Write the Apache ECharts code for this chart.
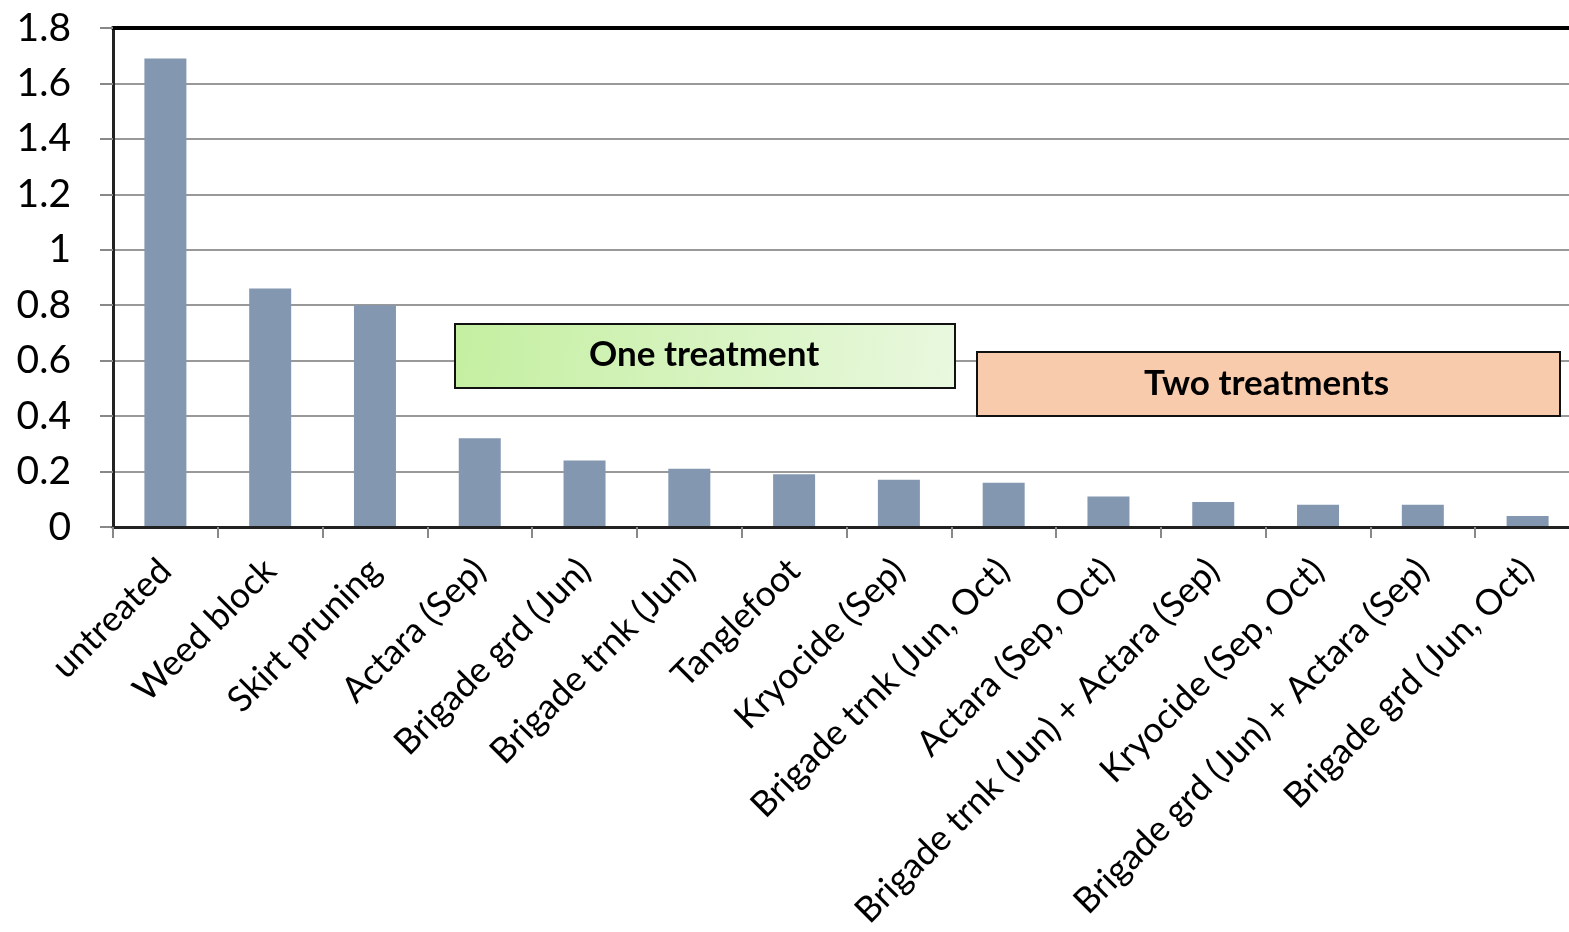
<!DOCTYPE html>
<html><head><meta charset="utf-8">
<script src="https://cdn.jsdelivr.net/npm/echarts@6/dist/echarts.min.js"></script>
<style>html,body{margin:0;padding:0;background:#fff;overflow:hidden}#c{width:1569px;height:932px}</style>
</head><body><div id="c"></div>
<script>
const categories = ["untreated","Weed block","Skirt pruning","Actara (Sep)","Brigade grd (Jun)","Brigade trnk (Jun)","Tanglefoot","Kryocide (Sep)","Brigade trnk (Jun, Oct)","Actara (Sep, Oct)","Brigade trnk (Jun) + Actara (Sep)","Kryocide (Sep, Oct)","Brigade grd (Jun) + Actara (Sep)","Brigade grd (Jun, Oct)"];
const values = [1.69,0.86,0.80,0.32,0.24,0.21,0.19,0.17,0.16,0.11,0.09,0.08,0.08,0.04];
const yTicks = [0,0.2,0.4,0.6,0.8,1,1.2,1.4,1.6,1.8];
const boxLabels = ["One treatment","Two treatments"];

const chart = echarts.init(document.getElementById('c'));
const font = 'Lato, "Open Sans", sans-serif';
chart.setOption({
  animation:false,
  grid:{left:113,top:28,width:1467,height:499,containLabel:false,outerBoundsMode:'none'},
  xAxis:[{
    type:'category',data:categories,
    axisLine:{lineStyle:{color:'#222',width:3}},
    axisTick:{show:true,length:11,lineStyle:{color:'#888',width:2},alignWithLabel:false},
    axisLabel:{rotate:45,interval:0,margin:38,fontSize:35.5,color:'#000',fontFamily:font},
    z:5
  },{
    type:'category',data:categories,position:'top',
    axisLine:{lineStyle:{color:'#000',width:4}},
    axisTick:{show:false},axisLabel:{show:false}
  }],
  yAxis:{
    type:'value',min:0,max:1.8,interval:0.2,
    axisLine:{show:true,lineStyle:{color:'#222',width:3}},
    axisTick:{show:true,length:13,lineStyle:{color:'#888',width:2}},
    axisLabel:{fontSize:39,color:'#000',margin:42,fontFamily:font,
      formatter:v=>{const t=yTicks.find(x=>Math.abs(x-v)<1e-9);return t===undefined?'':String(t);}},
    splitLine:{lineStyle:{color:'#999',width:2}}
  },
  series:[{type:'bar',data:values,barWidth:42,itemStyle:{color:'#8497B0'},z:3}],
  graphic:[
    {type:'rect',left:454,top:323,z:100,shape:{x:0,y:0,width:500,height:64},
     style:{fill:new echarts.graphic.LinearGradient(0,0,1,1,[{offset:0,color:'#C4EFA0'},{offset:1,color:'#E9F8DF'}]),stroke:'#111',lineWidth:2}},
    {type:'text',z:101,left:454+250-115,top:337,style:{text:boxLabels[0],font:'bold 35px '+font,fill:'#000'}},
    {type:'rect',left:976,top:351,z:100,shape:{x:0,y:0,width:583,height:64},style:{fill:'#F8CBAD',stroke:'#111',lineWidth:2}},
    {type:'text',z:101,left:976+291-123,top:366,style:{text:boxLabels[1],font:'bold 35px '+font,fill:'#000'}}
  ]
});
</script></body></html>
